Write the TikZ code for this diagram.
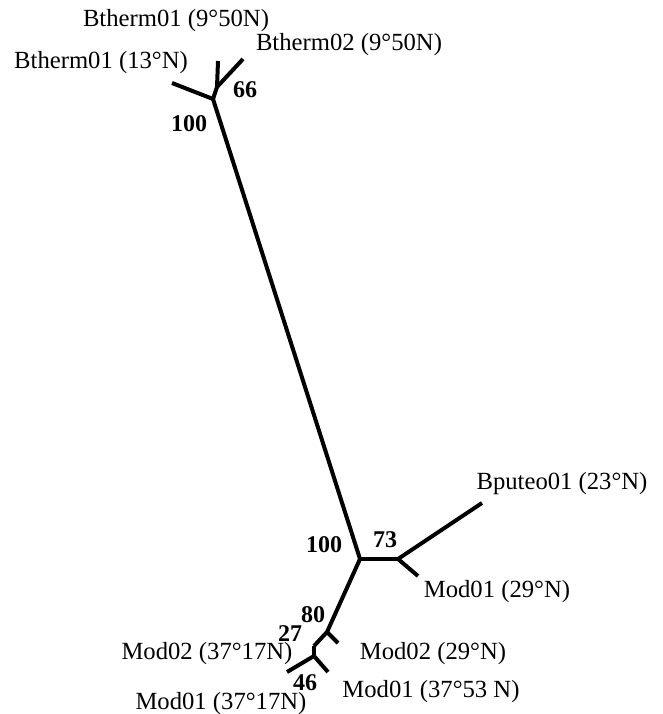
\documentclass[tikz,border=0pt]{standalone}
\usepackage{fontspec}
\setmainfont{Liberation Serif}
\usepackage{tikz}
\tikzstyle{leaf}=[inner sep=0pt, font=\fontsize{18.5}{20}\selectfont]
\tikzstyle{boot}=[inner sep=0pt, font=\bfseries\fontsize{18}{20}\selectfont]
\tikzstyle{branch}=[line width=3pt, line join=round, color=black]
\def\leaf{\node[style=leaf]}
\def\boot{\node[style=boot]}
\def\branch{\draw[style=branch]}

\begin{document}
\begin{tikzpicture}[x=0.75pt, y=-0.75pt]
      \useasboundingbox (0,0) rectangle (662,714);
      % tree nodes, top
      \coordinate (Tnode0) at (213,99);
      \coordinate (Tnode1) at (217,87);
      \coordinate (Tleaf0) at (172,83);
      \coordinate (Tleaf1) at (218,61);
      \coordinate (Tleaf2) at (243,59);
      % tree nodes, bottom
      \coordinate (Bnode0) at (360,559);
      \coordinate (Bnode1) at (398,559);
      \coordinate (Bnode2) at (327,632);
      \coordinate (Bnode3) at (314,646);
      \coordinate (Bnode4) at (314,656);
      \coordinate (Bleaf0) at (482,503);
      \coordinate (Bleaf1) at (418,576);
      \coordinate (Bleaf2) at (338,643);
      \coordinate (Bleaf3) at (287,672);
      \coordinate (Bleaf4) at (328,672);

      \branch (Tnode0) -- (Tleaf0);
      \branch (Tnode0) -- (Tnode1);
      \branch (Tnode1) -- (Tleaf1);
      \branch (Tnode1) -- (Tleaf2);
      \branch (Tnode0) -- (Bnode0);
      \branch (Bnode0) -- (Bnode1);
      \branch (Bnode1) -- (Bleaf0);
      \branch (Bnode1) -- (Bleaf1);
      \branch (Bnode0) -- (Bnode2);
      \branch (Bnode2) -- (Bleaf2);
      \branch (Bnode2) -- (Bnode3);
      \branch (Bnode3) -- (Bnode4);
      \branch (Bnode4) -- (Bleaf3);
      \branch (Bnode4) -- (Bleaf4);

      % leaf names
      \leaf (Lname0) at (176,21)  {Btherm01 (9°50N)};
      \leaf (Lname1) at (349,45)  {Btherm02 (9°50N)};
      \leaf (Lname2) at (101,63)  {Btherm01 (13°N)};
      \leaf (Lname3) at (562,484) {Bputeo01 (23°N)};
      \leaf (Lname4) at (497,592) {Mod01 (29°N)};
      \leaf (Lname5) at (207,654) {Mod02 (37°17N)};
      \leaf (Lname6) at (433,654) {Mod02 (29°N)};
      \leaf (Lname7) at (431,692) {Mod01 (37°53 N)};
      \leaf (Lname8) at (221,704) {Mod01 (37°17N)};
      % support values
      \boot (Bval0) at (245,90)  {66};
      \boot (Bval1) at (189,124) {100};
      \boot (Bval2) at (324,545) {100};
      \boot (Bval3) at (385,540) {73};
      \boot (Bval4) at (313,615) {80};
      \boot (Bval5) at (290,634) {27};
      \boot (Bval6) at (305,683) {46};
\end{tikzpicture}
\end{document}
